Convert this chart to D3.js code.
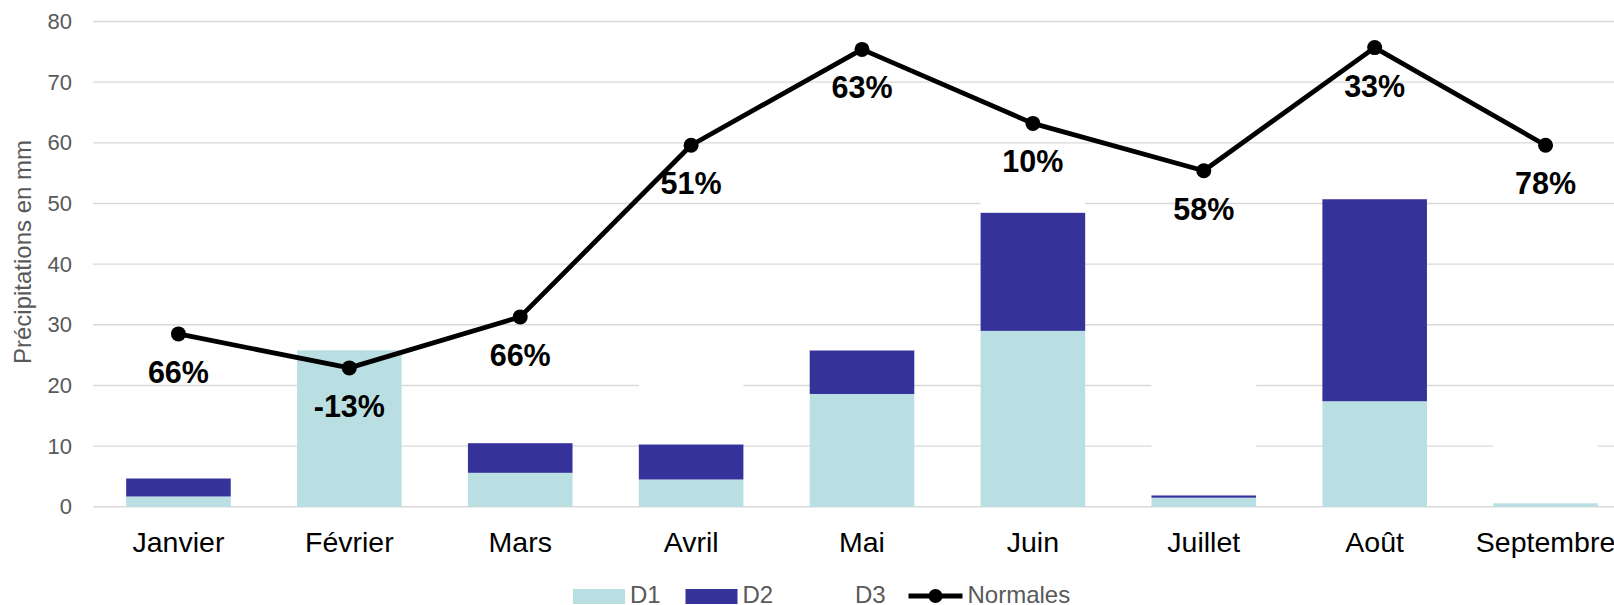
<!DOCTYPE html>
<html lang="fr">
<head>
<meta charset="utf-8">
<script src="https://cdn.jsdelivr.net/npm/d3@7/dist/d3.min.js"></script>
<style>
  html, body { margin: 0; padding: 0; background: #fff; }
  svg { display: block; font-family: "Liberation Sans", Arial, sans-serif; }
</style>
</head>
<body>
<svg id="chart" width="1614" height="605"></svg>
<script>
// Monthly precipitation (mm): stacked D1 / D2 / D3 bars, normals line with deviation labels
const months = ["Janvier", "Février", "Mars", "Avril", "Mai", "Juin", "Juillet", "Août", "Septembre"];
const valuesD1 = [1.7, 25.8, 5.6, 4.5, 18.6, 29.0, 1.5, 17.4, 0.6];
const valuesD2 = [3.0, 0.0, 4.9, 5.8, 7.2, 19.5, 0.4, 33.3, 0.0];
const valuesD3 = [5.0, 0.0, 0.2, 18.9, 2.1, 8.4, 21.4, 0.0, 12.5];
const normales = [28.5, 22.9, 31.3, 59.6, 75.4, 63.2, 55.4, 75.7, 59.6];
const ecarts = ["66%", "-13%", "66%", "51%", "63%", "10%", "58%", "33%", "78%"];
const yTicks = [0, 10, 20, 30, 40, 50, 60, 70, 80];
const seriesNames = ["D1", "D2", "D3"];
const seriesColors = ["#b9dfe3", "#353399", "#ffffff"];

const svg = d3.select("#chart");

const x = d3.scaleBand()
  .domain(months)
  .range([93, 1631])
  .paddingInner(0.388)
  .paddingOuter(0.194);

const y = d3.scaleLinear().domain([0, 80]).range([506.8, 21.5]);

// Horizontal gridlines
svg.append("g")
  .selectAll("line")
  .data(yTicks)
  .join("line")
  .attr("x1", 93).attr("x2", 1631)
  .attr("y1", d => y(d)).attr("y2", d => y(d))
  .attr("stroke", "#d9d9d9")
  .attr("stroke-width", 1.4);

// Y axis tick labels
const yAxis = svg.append("g")
  .attr("transform", "translate(80,0)")
  .call(d3.axisLeft(y).tickValues(yTicks).tickSize(0).tickPadding(8));
yAxis.select(".domain").remove();
yAxis.selectAll("text")
  .attr("font-size", 22)
  .attr("font-family", "Liberation Sans, Arial, sans-serif")
  .attr("fill", "#595959");

// Y axis title
svg.append("text")
  .attr("transform", "translate(31,252) rotate(-90)")
  .attr("text-anchor", "middle")
  .attr("font-size", 24)
  .attr("fill", "#595959")
  .text("Précipitations en mm");

// Stacked bars
const table = months.map((m, i) => ({ month: m, D1: valuesD1[i], D2: valuesD2[i], D3: valuesD3[i] }));
const stacked = d3.stack().keys(seriesNames)(table);

svg.append("g")
  .selectAll("g")
  .data(stacked)
  .join("g")
  .attr("fill", (d, i) => seriesColors[i])
  .selectAll("rect")
  .data(d => d)
  .join("rect")
  .attr("x", d => x(d.data.month))
  .attr("width", x.bandwidth())
  .attr("y", d => y(d[1]))
  .attr("height", d => Math.max(0, y(d[0]) - y(d[1])));

// Category axis
const xAxis = svg.append("g")
  .attr("transform", `translate(0,${y(0)})`)
  .call(d3.axisBottom(x).tickSize(0).tickPadding(25));
xAxis.select(".domain").remove();
xAxis.selectAll("text")
  .attr("font-size", 28.5)
  .attr("font-family", "Liberation Sans, Arial, sans-serif")
  .attr("fill", "#000");

// Normals line
const cx = (d, i) => x(months[i]) + x.bandwidth() / 2;
const line = d3.line().x(cx).y(d => y(d));

svg.append("path")
  .datum(normales)
  .attr("d", line)
  .attr("fill", "none")
  .attr("stroke", "#000")
  .attr("stroke-width", 4.8)
  .attr("stroke-linejoin", "round");

svg.append("g")
  .selectAll("circle")
  .data(normales)
  .join("circle")
  .attr("cx", cx)
  .attr("cy", d => y(d))
  .attr("r", 7.5)
  .attr("fill", "#000");

// Deviation labels beneath each point
svg.append("g")
  .selectAll("text")
  .data(normales)
  .join("text")
  .attr("x", cx)
  .attr("y", d => y(d) + 49)
  .attr("text-anchor", "middle")
  .attr("font-size", 30.5)
  .attr("font-weight", "bold")
  .attr("fill", "#000")
  .text((d, i) => ecarts[i]);

// Legend
const legendItems = [
  { name: "D1", type: "rect", color: seriesColors[0] },
  { name: "D2", type: "rect", color: seriesColors[1] },
  { name: "D3", type: "rect", color: seriesColors[2] },
  { name: "Normales", type: "line", color: "#000" }
];
const legend = svg.append("g").attr("transform", "translate(573,596)");
const item = legend.selectAll("g")
  .data(legendItems)
  .join("g")
  .attr("transform", (d, i) => `translate(${i * 112.5},0)`);

item.filter(d => d.type === "rect")
  .append("rect")
  .attr("x", 0).attr("y", -7)
  .attr("width", 52).attr("height", 15)
  .attr("fill", d => d.color);

const lineItem = item.filter(d => d.type === "line");
lineItem.append("line")
  .attr("x1", -2).attr("x2", 52)
  .attr("y1", 0).attr("y2", 0)
  .attr("stroke", d => d.color)
  .attr("stroke-width", 4.8);
lineItem.append("circle")
  .attr("cx", 25).attr("cy", 0).attr("r", 7)
  .attr("fill", d => d.color);

item.append("text")
  .attr("x", d => d.type === "line" ? 57 : 57)
  .attr("y", 7)
  .attr("font-size", 24)
  .attr("fill", "#595959")
  .text(d => d.name);
</script>
</body>
</html>
